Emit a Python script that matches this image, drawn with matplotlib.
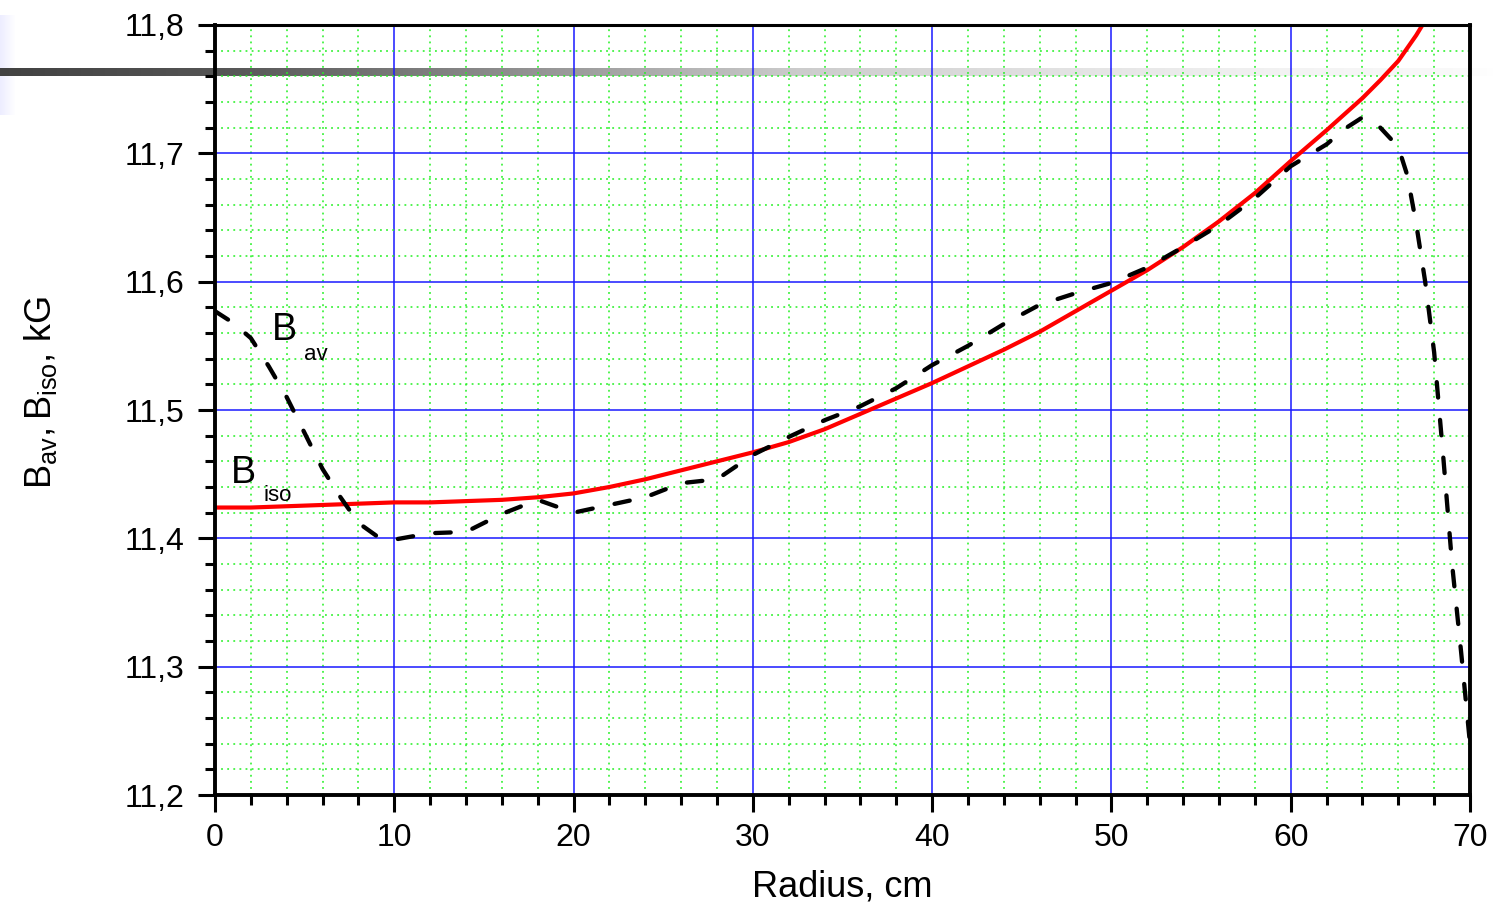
import numpy as np
import matplotlib
matplotlib.use("Agg")
import matplotlib.pyplot as plt
from matplotlib.ticker import MultipleLocator

# ---------------- data ----------------
r_iso = [0, 2, 4, 6, 8, 10, 12, 14, 16, 18, 20, 22, 24, 26, 28, 30, 32, 34, 36,
         38, 40, 42, 44, 46, 48, 50, 52, 54, 56, 58, 60, 62, 64, 65, 66, 67, 68]
b_iso = [11.424, 11.424, 11.425, 11.426, 11.427, 11.428, 11.428, 11.429, 11.430,
         11.432, 11.435, 11.440, 11.446, 11.453, 11.460, 11.467, 11.475, 11.485,
         11.497, 11.509, 11.521, 11.534, 11.547, 11.561, 11.577, 11.593, 11.609,
         11.627, 11.647, 11.669, 11.694, 11.718, 11.743, 11.757, 11.772, 11.792,
         11.815]

r_av = [0, 1, 2, 3, 4, 5, 6, 7, 8, 9, 10, 12, 14, 16, 18, 20, 22, 24, 26, 28,
        30, 32, 34, 36, 38, 40, 42, 44, 46, 48, 50, 52, 54, 56, 58, 60, 62, 63,
        64, 65, 66, 66.5, 67, 67.5, 68, 68.5, 69, 69.5, 70]
b_av = [11.577, 11.568, 11.556, 11.534, 11.510, 11.482, 11.454, 11.432, 11.412,
        11.402, 11.399, 11.404, 11.405, 11.419, 11.430, 11.420, 11.426, 11.432,
        11.443, 11.446, 11.465, 11.479, 11.492, 11.503, 11.517, 11.535, 11.550,
        11.567, 11.582, 11.591, 11.599, 11.611, 11.627, 11.644, 11.665, 11.690,
        11.707, 11.719, 11.728, 11.720, 11.705, 11.683, 11.645, 11.600, 11.545,
        11.465, 11.380, 11.312, 11.240]

x_ticks = [0, 10, 20, 30, 40, 50, 60, 70]
x_ticklabels = ["0", "10", "20", "30", "40", "50", "60", "70"]
y_ticks = [11.2, 11.3, 11.4, 11.5, 11.6, 11.7, 11.8]
y_ticklabels = ["11,2", "11,3", "11,4", "11,5", "11,6", "11,7", "11,8"]

# ---------------- figure ----------------
plt.rcParams['font.family'] = ['Liberation Sans', 'DejaVu Sans']
plt.rcParams['mathtext.default'] = 'regular'
W, H = 1493, 910
fig = plt.figure(figsize=(W / 100, H / 100), dpi=100)

# background artefacts (grey fading bar and faint box)
bg = fig.add_axes([0, 0, 1, 1], zorder=-5)
bg.set_xlim(0, W)
bg.set_ylim(H, 0)
bg.axis('off')
cols = np.arange(W)
shade = np.interp(cols, [0, 215, 500, 800, 1100, 1300, 1450, 1493],
                  [0.26, 0.33, 0.55, 0.80, 0.90, 0.955, 0.975, 1.0])
bar = np.tile(shade, (8, 1))
box_shade = np.interp(np.arange(16), [0, 15], [0.0, 1.0])
box = np.ones((1, 16, 3))
box[0, :, 0] = 0.93 + 0.07 * box_shade
box[0, :, 1] = 0.93 + 0.07 * box_shade
box[0, :, 2] = 1.0
bg.imshow(box, extent=(0, 16, 115, 15), aspect='auto', interpolation='bilinear')
bg.imshow(np.dstack([bar] * 3), extent=(0, W, 76, 68), aspect='auto',
          interpolation='bilinear')

ax = fig.add_axes([215 / W, 1 - 795 / H, (1470 - 215) / W, (795 - 25) / H])
ax.patch.set_alpha(0)

ax.set_xlim(0, 70)
ax.set_ylim(11.2, 11.8)

ax.xaxis.set_major_locator(MultipleLocator(10))
ax.xaxis.set_minor_locator(MultipleLocator(2))
ax.yaxis.set_major_locator(MultipleLocator(0.1))
ax.yaxis.set_minor_locator(MultipleLocator(0.02))
ax.set_xticks(x_ticks)
ax.set_xticklabels(x_ticklabels)
ax.set_yticks(y_ticks)
ax.set_yticklabels(y_ticklabels)

ax.grid(which='minor', color='#22f022', linestyle=(0, (1.2, 2.8)), linewidth=1.1)
ax.grid(which='major', color='#1a1aff', linestyle='-', linewidth=1.1)
ax.set_axisbelow(True)

ax.plot(r_iso, b_iso, color='#ff0000', linewidth=3.0, zorder=4,
        solid_capstyle='butt')
ax.plot(r_av, b_av, color='black', linewidth=3.1, linestyle=(0, (3.6, 5.2)),
        dash_capstyle='round', zorder=5)

for s in ['left', 'bottom', 'right']:
    ax.spines[s].set_linewidth(2.8)
ax.spines['top'].set_linewidth(2.2)
for s in ax.spines.values():
    s.set_zorder(6)

ax.tick_params(axis='both', which='major', direction='out', length=12,
               width=2.2, labelsize=23)
ax.tick_params(axis='x', which='major', pad=8)
ax.tick_params(axis='y', which='major', pad=10)
ax.tick_params(axis='both', which='minor', direction='out', length=7, width=2.2)
ax.tick_params(top=False, right=False, which='both')

ax.set_xlabel('Radius, cm', fontsize=26)
ax.xaxis.set_label_coords(0.5, -0.097)
ax.set_ylabel(r'$B_{av}, B_{iso}$, kG', fontsize=26)
ax.yaxis.set_label_coords(-0.124, 0.523)

ax.text(3.9, 11.562, 'B', fontsize=27, ha='center', va='center')
ax.text(5.65, 11.543, 'av', fontsize=16, ha='center', va='center')
ax.text(1.6, 11.451, 'B', fontsize=27, ha='center', va='center')
ax.text(3.5, 11.433, 'iso', fontsize=16, ha='center', va='center')

fig.savefig('out.png', dpi=100)
